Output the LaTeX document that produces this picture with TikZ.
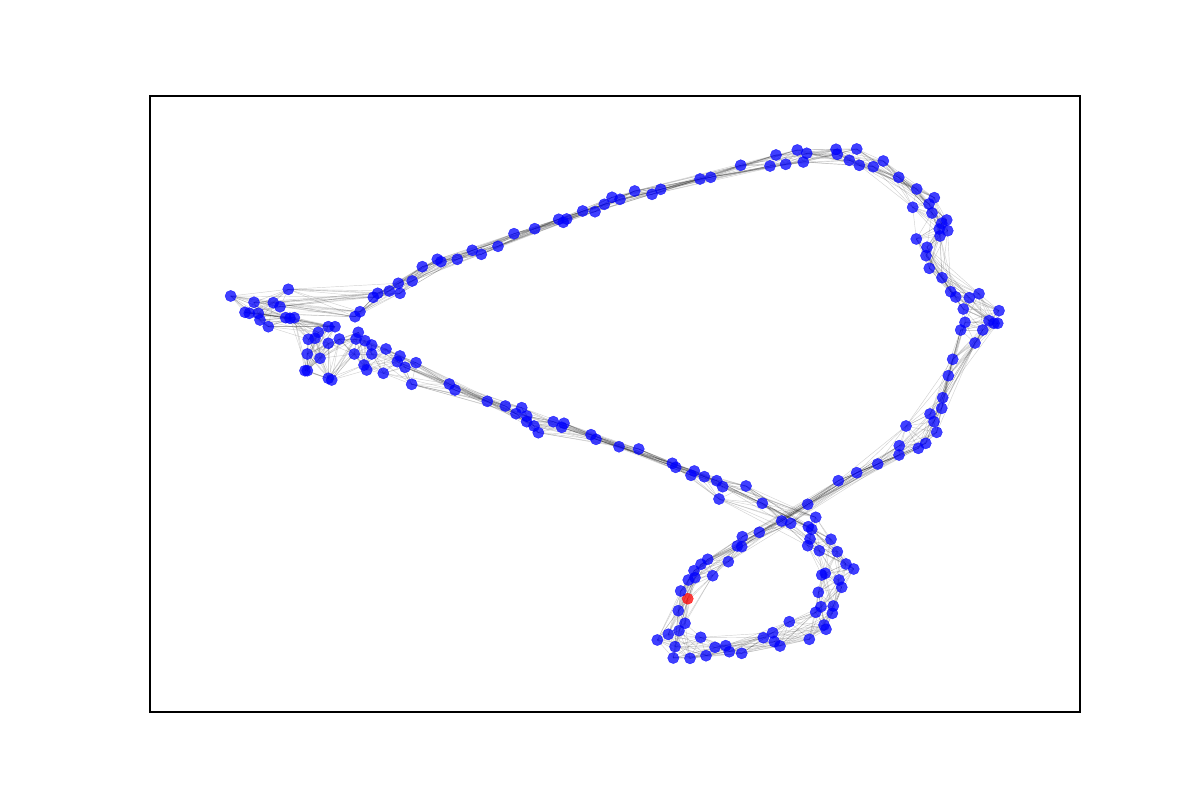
\documentclass[tikz,border=0pt]{standalone}
\usepackage{tikz}
\usetikzlibrary{backgrounds,positioning}

\begin{document}
\begin{tikzpicture}[x=0.02cm,y=-0.02cm,
  vtx/.style={circle,inner sep=0pt,minimum size=0.225cm,fill=blue,draw=blue,fill opacity=0.75,draw opacity=0.75,line width=0.2pt},
  src/.style={fill=red,draw=red},
  edge/.style={draw=black,opacity=0.18,line width=0.25pt},
  frame/.style={draw=black,line width=0.6pt}]
\useasboundingbox (0,0) rectangle (1200,800);
\draw[frame] (150,96) rectangle (1080,712);
\foreach \x/\y [count=\i] in {
  687.7/598.7, 678.3/610.7, 685/623.3, 679/630.7, 668.3/634.3, 657.3/640, 675/646.7, 673.3/658,
  690/658.3, 700.7/637.3, 706/655.7, 715/647.3, 725.7/645.7, 729.3/651.7, 741.7/653.3, 763.3/637.7,
  772.7/632.7, 774.3/641.7, 780/646, 789.3/621.7, 809.3/639.3,
  826/629.3, 824/625, 815.7/612.3, 832.3/613.3, 821/606.7, 833.3/606, 818.3/592.3, 841.7/587.3,
  839/580, 821.7/575, 825.3/573.3, 853.7/569, 846/564, 837.3/551.7, 819.3/550.7, 831/539.3,
  807.7/545.7, 810/539, 811.7/529.3, 808.3/526.7, 815.7/517.3,
  762.3/503.3, 746/486, 719/499, 722.7/486.7, 716.7/480.7, 704.3/476.7, 694.3/471, 691/475.3,
  675.7/467.3, 672.3/463.3, 638.7/449, 619/446.7, 596/439.3, 591/434.7, 564/423.3, 561.7/427.3,
  553.3/421.7, 538.3/432.7, 534/426, 526.7/421.7, 526.7/416, 521.7/407.7, 516/413.7, 505.3/406,
  487.3/401.3, 455/390, 449.3/384, 411.7/384.3,
  405/367.3, 416/362.7, 397.3/361.7, 400/356, 383.3/373.3, 386/349, 371.7/354, 371.7/345,
  366.7/370, 364/365, 365/340.7, 354.3/354, 356/339, 358.3/332.3, 339.3/339, 331.7/380,
  328.3/378.3, 328.3/343.3, 320/358.3, 307.3/354, 305/370.7, 307.3/370.7, 315/338.3, 308.3/339.3,
  318.3/332.3, 335/326.7, 328.3/326.7, 294.3/317.7, 290/318.3, 285.7/317.7, 268.3/326.7, 260/320,
  258.3/313.3, 249.3/313.3, 245/312.3, 230.7/296, 254/302.3, 273.3/302.7, 280/306.7, 288.3/289.3,
  355/316.7, 360/311.7, 373.3/297.3, 377.7/293.3, 389.3/291, 400/293.3, 398.3/283.3, 412.2/281,
  422.3/266.7, 437.3/259.3, 441/261.7, 457.3/259.3, 472.3/250.3, 481.3/254.3, 498/246.3, 514/233.7,
  534.7/228.7, 558.7/219.3, 563.3/222.3, 566.7/219, 582.7/211, 595/211.7, 604.3/204.3, 612/197.3,
  620/199.3, 634.7/191, 652/194.3, 660.7/189.3, 700/179, 710.7/177.3, 740.7/165.3, 770/166,
  776/155, 785.7/164.3, 797.3/150, 803.3/162, 806.7/153.3, 836/149.3, 837.3/154.3, 849.3/160.3,
  856.7/149, 859.3/165.3, 873.3/166.7, 883.3/161, 898.7/177.3, 916.7/189, 934.3/197.7, 929/204,
  912.7/207.3, 932/213, 946.7/220, 941.7/223.3, 939.3/229, 947.7/230.7, 940/236, 916.3/239,
  927/247.3, 926/255.7, 929.3/268.3, 942/277.7, 950.7/291.7, 955.7/297, 969.3/297.7, 979/293.7,
  963.3/309, 999/310.7, 989/320.7, 994/323.3, 997.7/323.3, 965/322.3, 982.7/330, 960.7/330, 975/343,
  952.7/359.3, 948.3/375.7, 942.7/397.7, 941.7/408.3, 930/414, 934/421.7, 936.7/432.3, 906/426,
  925.7/443.3, 918.3/448.3, 899.3/445.7, 899/455, 877.7/464, 856.7/472.7, 838.3/480.7, 807.7/504.3,
  781.7/521, 790.7/523.3, 759.3/532.3, 742.3/536.7, 737.3/546, 741.7/546.7, 728.3/561.7, 707.7/559.3,
  701/564.3, 694/570.7, 712.7/575.7, 695/577.7, 688.3/580, 680.7/591}
{
  \ifnum\i=1 \node[vtx,src] (n\i) at (\x,\y) {}; \else \node[vtx] (n\i) at (\x,\y) {}; \fi
  \xdef\nn{\i}
}
\begin{scope}[on background layer]
\foreach \i in {1,...,\nn}{
  \foreach \k in {1,...,7}{
    \pgfmathtruncatemacro\j{mod(\i+\k-1,\nn)+1}
    \draw[edge] (n\i.center) -- (n\j.center);
  }
}
\end{scope}
\end{tikzpicture}
\end{document}
